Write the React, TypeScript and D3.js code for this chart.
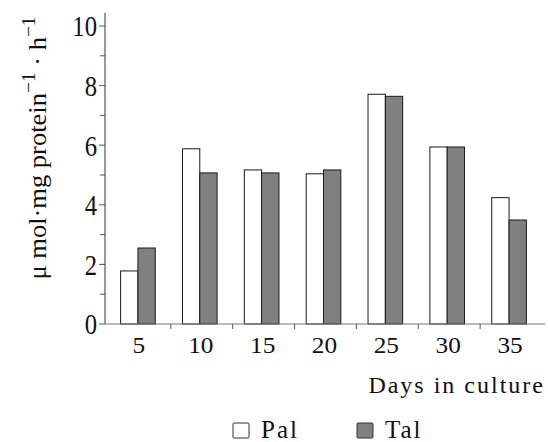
import React from 'react';
import * as d3 from 'd3';

// days in culture and the two series
const days = ['5', '10', '15', '20', '25', '30', '35'];
const palValues = [1.78, 5.88, 5.17, 5.04, 7.71, 5.94, 4.24];
const talValues = [2.55, 5.07, 5.07, 5.17, 7.64, 5.94, 3.49];
const seriesNames = ['Pal', 'Tal'];
const seriesFills = ['#ffffff', '#808080'];
const yTicks = [0, 2, 4, 6, 8, 10];
const yMinorTicks = [1, 3, 5, 7, 9];

const width = 548;
const height = 442;
const font = "'Times New Roman', 'Liberation Serif', Times, serif";

const App = () => {
    // scales
    const x = d3.scaleBand<string>().domain(days).range([109, 542]).paddingInner(0.44).paddingOuter(0.22);
    const xSeries = d3.scaleBand<string>().domain(seriesNames).range([0, x.bandwidth()]);
    const y = d3.scaleLinear().domain([0, 10]).range([324, 26]);
    const axisX = 105;
    const step = x.step();
    const barShift = -2;

    const values = [palValues, talValues];

    return (
        <svg width={width} height={height} style={{ position: 'absolute', left: 0, top: 0, background: '#fff', fontFamily: font }}>
            {/* bars */}
            {days.map((d, i) => (
                <g key={d}>
                    {seriesNames.map((s, j) => (
                        <rect
                            key={s}
                            x={(x(d) as number) + (xSeries(s) as number) + barShift}
                            y={y(values[j][i])}
                            width={xSeries.bandwidth()}
                            height={y(0) - y(values[j][i])}
                            fill={seriesFills[j]}
                            stroke="#1a1a1a"
                            strokeWidth={1}
                        />
                    ))}
                </g>
            ))}

            {/* y axis */}
            <line x1={axisX} x2={axisX} y1={13} y2={y(0)} stroke="#333" strokeWidth={1} />
            {yTicks.map(t => (
                <g key={t}>
                    <line x1={axisX - 6} x2={axisX} y1={y(t)} y2={y(t)} stroke="#555" />
                    <text
                        transform={`translate(${axisX - 8},${y(t)}) scale(0.95,1.15)`}
                        dy="0.35em"
                        textAnchor="end"
                        fontSize={26}
                        fill="#111"
                    >
                        {t}
                    </text>
                </g>
            ))}
            {yMinorTicks.map(t => (
                <line key={t} x1={axisX - 5} x2={axisX} y1={y(t)} y2={y(t)} stroke="#555" />
            ))}

            {/* x axis */}
            <line x1={axisX} x2={545} y1={y(0)} y2={y(0)} stroke="#777" strokeWidth={1.2} />
            {days.slice(1).map(d => {
                const bx = (x(d) as number) - (step - x.bandwidth()) / 2;
                return <line key={d} x1={bx} x2={bx} y1={y(0)} y2={y(0) + 5} stroke="#555" />;
            })}
            {days.map(d => (
                <text
                    key={d}
                    transform={`translate(${(x(d) as number) + x.bandwidth() / 2 - 1},353) scale(1.1,1)`}
                    textAnchor="middle"
                    fontSize={23}
                    fill="#111"
                >
                    {d}
                </text>
            ))}
            <text x={545} y={393} textAnchor="end" fontSize={24} letterSpacing={2} fill="#111">
                Days in culture
            </text>

            {/* y axis label */}
            <text
                transform="translate(46,148) rotate(-90) scale(1.02,1)"
                textAnchor="middle"
                fontSize={26}
                fill="#111"
            >
                <tspan>μ mol·mg protein</tspan>
                <tspan dy={-11} fontSize={19}>−1</tspan>
                <tspan dy={11}> · h</tspan>
                <tspan dy={-11} fontSize={19}>−1</tspan>
            </text>

            {/* legend */}
            {seriesNames.map((s, j) => (
                <g key={s} transform={`translate(${233 + j * 124},423)`}>
                    <rect x={0} y={0} width={16} height={15} fill={seriesFills[j]} stroke="#333" rx={1} />
                    <text x={28} y={15} fontSize={25} letterSpacing={2} fill="#111">
                        {s}
                    </text>
                </g>
            ))}
        </svg>
    );
};

export default App;
